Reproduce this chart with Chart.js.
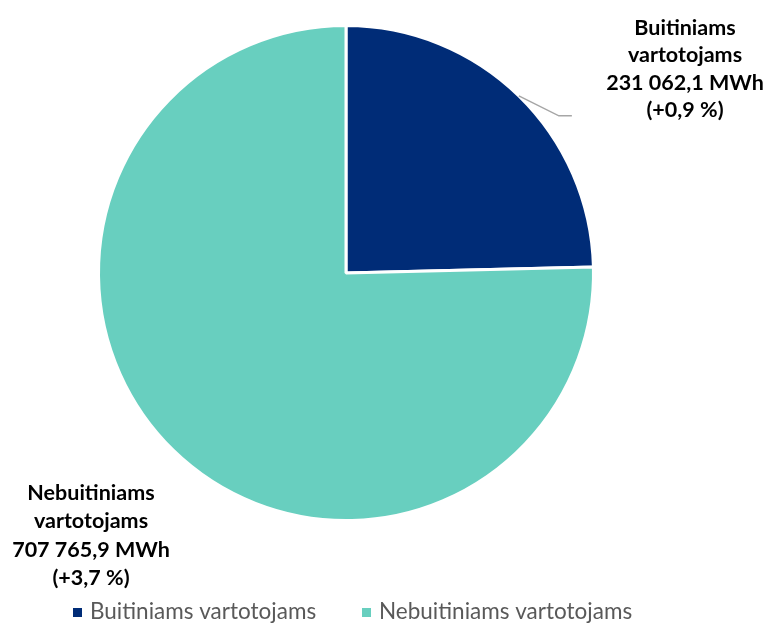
<!DOCTYPE html>
<html>
<head>
<meta charset="utf-8">
<script src="https://cdn.jsdelivr.net/npm/chart.js@4/dist/chart.umd.min.js"></script>
<style>
  html, body { margin: 0; padding: 0; background: #fff; }
  #wrap { width: 766px; height: 624px; position: relative; }
</style>
</head>
<body>
<div id="wrap"><canvas id="pieChart"></canvas></div>
<script>
// data
const categories = ["Buitiniams vartotojams", "Nebuitiniams vartotojams"];
const valuesMWh = [231062.1, 707765.9];
const valueLabels = ["231 062,1 MWh", "707 765,9 MWh"];
const changeLabels = ["(+0,9 %)", "(+3,7 %)"];
const labelLines = [["Buitiniams", "vartotojams"], ["Nebuitiniams", "vartotojams"]];
const colors = ["#002C77", "#68CFBF"];

const FONT = "Lato, 'Open Sans', sans-serif";

// draws the two callout labels and the legend
const calloutPlugin = {
    id: "callouts",
    afterDraw(chart) {
        const ctx = chart.ctx;
        const meta = chart.getDatasetMeta(0);
        const arc0 = meta.data[0];
        const cx = arc0.x, cy = arc0.y, r = arc0.outerRadius;

        ctx.save();
        ctx.textAlign = "center";
        ctx.textBaseline = "middle";
        ctx.fillStyle = "#000";
        ctx.font = "bold 21.5px " + FONT;

        // first slice: leader line from mid-angle of the arc
        const mid = (arc0.startAngle + arc0.endAngle) / 2;
        const sx = cx + Math.cos(mid) * r;
        const sy = cy + Math.sin(mid) * r;
        ctx.strokeStyle = "#A6A6A6";
        ctx.lineWidth = 1.5;
        ctx.beginPath();
        ctx.moveTo(sx, sy);
        ctx.lineTo(sx + 40, sy + 20);
        ctx.lineTo(sx + 53, sy + 20);
        ctx.stroke();

        const lines0 = labelLines[0].concat([valueLabels[0], changeLabels[0]]);
        lines0.forEach((t, i) => ctx.fillText(t, cx + 339, cy - 245 + i * 27.5));

        const lines1 = labelLines[1].concat([valueLabels[1], changeLabels[1]]);
        lines1.forEach((t, i) => ctx.fillText(t, cx - 255, cy + 220 + i * 28.5));

        // legend
        ctx.font = "22.5px " + FONT;
        ctx.textAlign = "left";
        const ly = 612;
        const starts = [73, 362];
        categories.forEach((c, i) => {
            ctx.fillStyle = colors[i];
            ctx.fillRect(starts[i], ly - 4, 9, 9);
            ctx.fillStyle = "#595959";
            ctx.fillText(c, starts[i] + 17, ly);
        });
        ctx.restore();
    }
};

new Chart(document.getElementById("pieChart"), {
    type: "pie",
    data: {
        labels: categories,
        datasets: [{
            data: valuesMWh,
            backgroundColor: colors,
            borderColor: "#ffffff",
            borderWidth: 3
        }]
    },
    options: {
        responsive: true,
        maintainAspectRatio: false,
        animation: false,
        layout: { padding: { top: 24, bottom: 102, left: 0, right: 74 } },
        plugins: {
            legend: { display: false },
            tooltip: { enabled: false }
        }
    },
    plugins: [calloutPlugin]
});
</script>
</body>
</html>
